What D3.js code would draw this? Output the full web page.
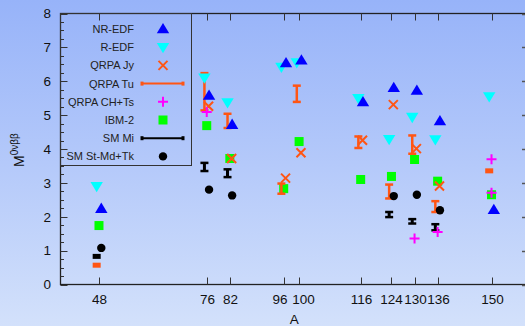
<!DOCTYPE html>
<html>
<head>
<meta charset="utf-8">
<script src="https://cdn.jsdelivr.net/npm/d3@7"></script>
<style>
  html, body { margin: 0; padding: 0; }
  body { width: 525px; height: 326px; overflow: hidden;
         background: linear-gradient(to bottom, #97b3f9 0%, #b4c9fa 50%, #d3e1fb 100%); }
  svg { font-family: "Liberation Sans", Arial, sans-serif; }
</style>
</head>
<body>
<script>
// tick values (mass numbers A)
var xTicks = [48, 76, 82, 96, 100, 116, 124, 130, 136, 150];
var yTicks = [0, 1, 2, 3, 4, 5, 6, 7, 8];

// NR-EDF
var nrEdfA = [48, 76, 82, 96, 100, 116, 124, 130, 136, 150];
var nrEdfM = [2.24, 5.58, 4.72, 6.54, 6.62, 5.39, 5.81, 5.73, 4.83, 2.21];
// R-EDF
var rEdfA = [48, 76, 82, 96, 100, 116, 124, 130, 136, 150];
var rEdfM = [2.90, 6.10, 5.37, 6.42, 6.55, 5.50, 4.29, 4.94, 4.28, 5.55];
// QRPA Jy
var jyA = [76, 82, 96, 100, 116, 124, 130, 136];
var jyM = [5.26, 3.72, 3.14, 3.89, 4.26, 5.31, 4.01, 2.91];
// QRPA Tu (ranges)
var tuA = [48, 76, 82, 96, 100, 116, 124, 130, 136, 150];
var tuLo = [0.54, 5.14, 4.62, 2.68, 5.39, 4.03, 2.54, 3.86, 2.14, 3.33];
var tuHi = [0.60, 6.24, 5.04, 2.98, 5.87, 4.37, 2.95, 4.40, 2.46, 3.38];
// QRPA CH+Ts
var chA = [76, 130, 136, 150, 150];
var chM = [5.09, 1.36, 1.55, 3.70, 2.71];
// IBM-2
var ibmA = [48, 76, 82, 96, 100, 116, 124, 130, 136, 150];
var ibmM = [1.74, 4.69, 3.72, 2.83, 4.22, 3.10, 3.19, 3.69, 3.05, 2.65];
// SM Mi (ranges)
var miA = [48, 76, 82, 124, 130, 136];
var miLo = [0.79, 3.35, 3.17, 1.99, 1.80, 1.60];
var miHi = [0.87, 3.59, 3.40, 2.14, 1.93, 1.78];
// SM St-Md+Tk
var stA = [48, 76, 82, 124, 130, 136];
var stM = [1.08, 2.80, 2.63, 2.61, 2.65, 2.19];

var orange = "#ff5514";

var svg = d3.select("body").append("svg")
    .attr("width", 525)
    .attr("height", 326);

// plot frame (window.top is read-only, so no plain "top")
var pLeft = 60.5, pRight = 530, pTop = 13.5, pBottom = 284.5;

var x = d3.scaleLinear().domain([38, 160]).range([pLeft, pRight]);
var y = d3.scaleLinear().domain([0, 8]).range([pBottom, pTop]);

// small horizontal nudges (in A units) like the original plot
var nudge = { l: -0.6, r: 0.6 };

svg.append("rect")
    .attr("x", pLeft).attr("y", pTop)
    .attr("width", pRight - pLeft).attr("height", pBottom - pTop)
    .attr("fill", "none").attr("stroke", "#222").attr("stroke-width", 1.3);

// y ticks (major + minor) on the left, majors on the right
var minor = d3.range(0, 8.01, 0.25);
svg.append("g").selectAll("line")
    .data(minor)
  .enter().append("line")
    .attr("x1", pLeft)
    .attr("x2", function(d) { return pLeft + (d % 1 === 0 ? 7 : 3.5); })
    .attr("y1", function(d) { return Math.round(y(d)) + 0.5; })
    .attr("y2", function(d) { return Math.round(y(d)) + 0.5; })
    .attr("stroke", "#333").attr("stroke-width", 1);
svg.append("g").selectAll("line")
    .data(yTicks)
  .enter().append("line")
    .attr("x1", pRight)
    .attr("x2", pRight - 8)
    .attr("y1", function(d) { return Math.round(y(d)) + 0.5; })
    .attr("y2", function(d) { return Math.round(y(d)) + 0.5; })
    .attr("stroke", "#555").attr("stroke-width", 1.5);

svg.append("g").selectAll("text")
    .data(yTicks)
  .enter().append("text")
    .attr("x", 51)
    .attr("y", function(d) { return y(d); })
    .attr("dy", "0.36em")
    .attr("text-anchor", "end")
    .attr("font-size", 13.5)
    .attr("fill", "#111")
    .text(function(d) { return d; });

// x ticks top and bottom; 96 and 100 labels pushed apart as in the original
var labelShift = { 96: -4.5, 100: 4 };
xTicks.forEach(function(a) {
  var px = Math.round(x(a)) + 0.5;
  svg.append("line").attr("x1", px).attr("x2", px).attr("y1", pTop).attr("y2", pTop + 7)
      .attr("stroke", "#333");
  svg.append("line").attr("x1", px).attr("x2", px).attr("y1", pBottom).attr("y2", pBottom - 7)
      .attr("stroke", "#333");
  svg.append("text").attr("x", px + (labelShift[a] || 0)).attr("y", 304)
      .attr("text-anchor", "middle").attr("font-size", 13.5).attr("fill", "#111")
      .text(a);
});

// axis titles
svg.append("text")
    .attr("x", (pLeft + pRight) / 2 - 1).attr("y", 324)
    .attr("text-anchor", "middle").attr("font-size", 13.5).attr("fill", "#111")
    .text("A");

var yl = svg.append("text")
    .attr("transform", "translate(24,167) rotate(-90)")
    .attr("font-size", 14).attr("fill", "#111");
yl.append("tspan").text("M");
yl.append("tspan").attr("dy", -6).attr("font-size", 10).text("0νββ");

// marker drawers
function triUp(g, cx, cy, c) {
  g.append("path").attr("transform", "translate(" + cx + "," + cy + ")")
    .attr("d", "M0,-6L6.2,4.3L-6.2,4.3Z").attr("fill", c);
}
function triDown(g, cx, cy, c) {
  g.append("path").attr("transform", "translate(" + cx + "," + cy + ")")
    .attr("d", "M0,6L6.2,-4.3L-6.2,-4.3Z").attr("fill", c);
}
function cross(g, cx, cy, c) {
  g.append("path").attr("transform", "translate(" + cx + "," + cy + ")")
    .attr("d", "M-4.5,-4.5L4.5,4.5M-4.5,4.5L4.5,-4.5")
    .attr("stroke", c).attr("stroke-width", 2).attr("fill", "none");
}
function plus(g, cx, cy, c) {
  g.append("path").attr("transform", "translate(" + cx + "," + cy + ")")
    .attr("d", "M-5,0L5,0M0,-5L0,5")
    .attr("stroke", c).attr("stroke-width", 2).attr("fill", "none");
}
function square(g, cx, cy, c) {
  g.append("rect").attr("x", cx - 4.5).attr("y", cy - 4.5)
    .attr("width", 9).attr("height", 9).attr("fill", c);
}
function dot(g, cx, cy, c) {
  g.append("circle").attr("cx", cx).attr("cy", cy).attr("r", 4.2).attr("fill", c);
}
function range(g, cx, y1, y2, c, w) {
  var t = Math.min(y1, y2), b = Math.max(y1, y2);
  if (b - t < 4) {
    g.append("rect").attr("x", cx - 4).attr("y", (t + b) / 2 - 2.5)
      .attr("width", 8).attr("height", 5).attr("fill", c);
    return;
  }
  g.append("line").attr("x1", cx).attr("x2", cx).attr("y1", t).attr("y2", b)
    .attr("stroke", c).attr("stroke-width", w);
  [t, b].forEach(function(yy) {
    g.append("line").attr("x1", cx - 4).attr("x2", cx + 4).attr("y1", yy).attr("y2", yy)
      .attr("stroke", c).attr("stroke-width", 2.5);
  });
}

var marks = svg.append("g");

// draw order: back to front
ibmA.forEach(function(a, i) { square(marks, x(a), y(ibmM[i]), "#00ff00"); });
tuA.forEach(function(a, i) { range(marks, x(a + nudge.l), y(tuLo[i]), y(tuHi[i]), orange, 2.5); });
miA.forEach(function(a, i) { range(marks, x(a + nudge.l), y(miLo[i]), y(miHi[i]), "#000", 3); });
stA.forEach(function(a, i) { dot(marks, x(a + nudge.r), y(stM[i]), "#000"); });
rEdfA.forEach(function(a, i) { triDown(marks, x(a + nudge.l), y(rEdfM[i]), "#00ffff"); });
nrEdfA.forEach(function(a, i) { triUp(marks, x(a + nudge.r), y(nrEdfM[i]), "#0000ff"); });
jyA.forEach(function(a, i) { cross(marks, x(a + nudge.r * 0.8), y(jyM[i]), orange); });
chA.forEach(function(a, i) { plus(marks, x(a), y(chM[i]), "#ff00ff"); });

// legend
var legNames = ["NR-EDF", "R-EDF", "QRPA Jy", "QRPA Tu", "QRPA CH+Ts", "IBM-2", "SM Mi", "SM St-Md+Tk"];
var leg = svg.append("g");
leg.append("rect")
    .attr("x", pLeft).attr("y", pTop)
    .attr("width", 131).attr("height", 152)
    .attr("fill", "none").attr("stroke", "#333").attr("stroke-width", 1);

legNames.forEach(function(name, i) {
  var ly = 29 + i * 18.2;
  leg.append("text").attr("x", 134).attr("y", ly).attr("dy", "0.36em")
      .attr("text-anchor", "end").attr("font-size", 11).attr("fill", "#222")
      .text(name);
  var sx = 163;
  if (i === 0) triUp(leg, sx, ly, "#0000ff");
  if (i === 1) triDown(leg, sx, ly, "#00ffff");
  if (i === 2) cross(leg, sx, ly, orange);
  if (i === 4) plus(leg, sx, ly, "#ff00ff");
  if (i === 5) square(leg, sx, ly, "#00ff00");
  if (i === 7) dot(leg, sx, ly, "#000");
  if (i === 3 || i === 6) {
    var c = i === 3 ? orange : "#000";
    leg.append("line").attr("x1", 142).attr("x2", 183).attr("y1", ly).attr("y2", ly)
        .attr("stroke", c).attr("stroke-width", 2);
    [142, 183].forEach(function(px) {
      leg.append("rect").attr("x", px - 1.5).attr("y", ly - 2)
          .attr("width", 3).attr("height", 4).attr("fill", c);
    });
  }
});
</script>
</body>
</html>
